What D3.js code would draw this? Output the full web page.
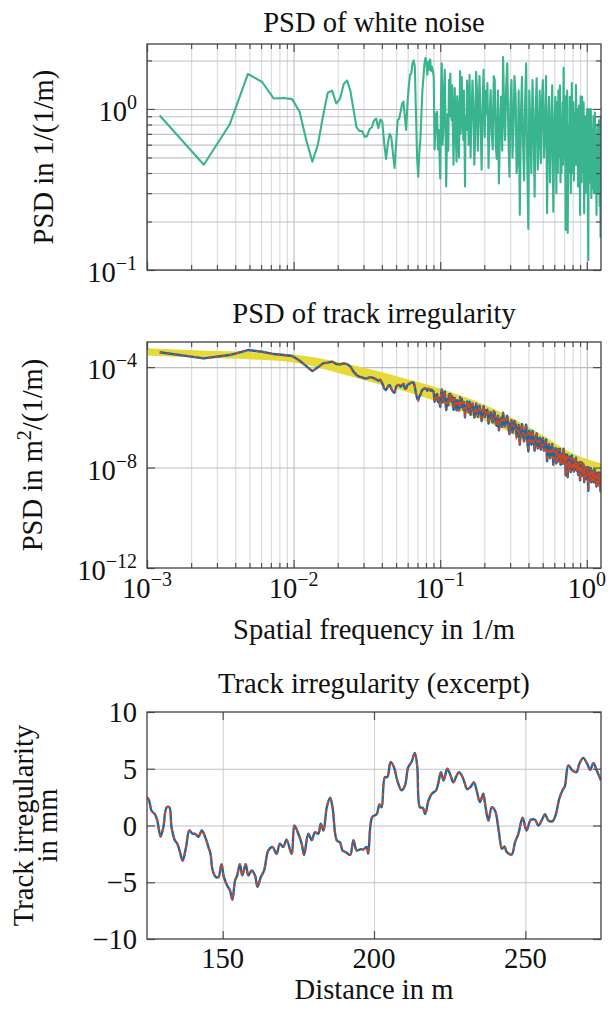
<!DOCTYPE html>
<html>
<head>
<meta charset="utf-8">
<script src="https://cdn.jsdelivr.net/npm/d3@7"></script>
<style>
  body { margin: 0; background: #fff; }
  svg { display: block; font-family: "Liberation Serif", "Times New Roman", serif; }
</style>
</head>
<body>
<svg id="chart" width="611" height="1011"></svg>
<script>
// ---- data ----

// spectral resolution of the FFT (1/819.2 m)
const binWidth = 1 / 819.2;

// PSD of white noise, bins 1..80
const noiseLowPsd = [
  0.91, 0.45, 0.80, 1.65, 1.47, 1.16, 1.17, 1.15, 0.96, 0.64,
  0.47, 0.60, 0.90, 1.26, 1.30, 1.08, 1.16, 1.43, 1.50, 1.29,
  0.99, 0.77, 0.73, 0.73, 0.67, 0.68, 0.75, 0.77, 0.85, 0.87,
  0.76, 0.86, 0.83, 0.61, 0.49, 0.61, 0.70, 0.67, 0.53, 0.43,
  0.61, 0.85, 0.87, 0.96, 1.08, 1.11, 0.90, 0.74, 1.08, 1.38,
  1.63, 1.66, 1.92, 2.00, 1.83, 0.93, 0.50, 0.38, 0.53, 0.64,
  0.93, 1.31, 1.58, 1.92, 2.07, 1.92, 1.63, 1.97, 1.75, 2.03,
  1.72, 1.83, 1.72, 1.58, 0.56, 0.74, 0.93, 0.96, 0.56, 0.74
];

// dense part: readings at selected bins
const noiseHighBins = [
  82, 83, 84, 85, 86, 87, 88, 89, 90, 91,
  92, 93, 94, 95, 96, 97, 98, 99, 100, 101,
  103, 104, 106, 107, 109, 110, 112, 113, 115, 116,
  118, 119, 121, 122, 124, 125, 127, 128, 130, 132,
  134, 136, 138, 140, 142, 144, 146, 148, 150, 152,
  155, 157, 160, 162, 165, 167, 170, 172, 175, 178,
  181, 184, 187, 190, 193, 196, 199, 203, 206, 210,
  213, 217, 220, 224, 227, 231, 235, 239, 243, 247,
  251, 255, 259, 263, 268, 272, 277, 281, 286, 291,
  296, 301, 306, 311, 316, 321, 327, 332, 338, 343,
  349, 355, 361, 367, 373, 379, 385, 391, 398, 404,
  411, 418, 425, 432, 439, 446, 453, 460, 468, 476,
  484, 492, 500, 508, 516, 524, 533, 542, 551, 560,
  569, 578, 588, 597, 607, 617, 627, 637, 648, 658,
  669, 680, 691, 702, 714, 725, 737, 749, 761, 773,
  786, 799, 812, 825, 839, 852, 866, 880, 895, 909,
  924, 939, 954, 969, 985, 1001, 1017, 1024
];
const noiseHighPsd = [
  0.37, 1.2, 1.92, 0.6, 0.74, 1.3, 1.75, 0.8, 0.33, 0.6,
  0.93, 0.55, 1.51, 0.9, 1.66, 1.1, 0.85, 1.4, 0.74, 0.45,
  1.35, 0.8, 0.47, 1.2, 0.90, 0.5, 1.72, 0.7, 1.58, 1.0,
  0.64, 1.3, 0.33, 0.9, 0.74, 1.5, 1.03, 0.6, 1.63, 0.5,
  0.90, 1.5, 1.08, 0.45, 0.67, 1.7, 1.31, 0.55, 0.99, 1.6,
  0.74, 0.42, 1.19, 1.75, 0.67, 1.3, 0.93, 1.45, 0.43, 0.9,
  1.31, 0.7, 0.56, 1.6, 1.51, 0.6, 0.49, 1.3, 0.345, 0.8,
  1.19, 0.55, 2.1, 0.9, 0.64, 1.4, 1.92, 0.7, 0.38, 1.1,
  1.51, 0.5, 0.74, 1.6, 1.19, 0.4, 0.50, 1.3, 0.22, 0.9,
  1.58, 0.6, 0.36, 1.1, 1.92, 0.5, 0.18, 1.3, 0.74, 0.4,
  1.51, 0.8, 0.285, 1.0, 1.55, 0.42, 0.64, 1.3, 0.46, 1.05,
  1.51, 0.5, 0.74, 1.6, 0.225, 0.8, 1.19, 0.35, 0.74, 1.4,
  0.23, 0.75, 1.19, 0.3, 0.58, 1.3, 1.08, 0.35, 0.40, 1.1,
  1.8, 0.5, 0.177, 0.9, 0.17, 0.8, 1.19, 0.3, 1.45, 0.6,
  0.36, 0.95, 1.41, 0.45, 0.33, 1.05, 0.22, 0.7, 1.19, 0.4,
  0.225, 0.9, 0.46, 1.0, 0.115, 0.7, 0.64, 0.28, 0.32, 0.9,
  0.64, 0.3, 0.22, 0.8, 0.50, 0.25, 0.16, 0.53
];

// extra readings in the densest part (above ~0.6 1/m)
const noiseExtraBins = [
  504, 512, 520, 528, 537, 546, 555, 564, 573, 583,
  592, 602, 612, 622, 632, 642, 653, 663, 674, 685,
  696, 708, 719, 731, 743, 755, 767, 779, 792, 805,
  818, 832, 845, 859, 873, 887, 902, 916, 931, 946,
  961, 977, 993, 1009, 1020
];
const noiseExtraPsd = [
  0.6, 1.1, 0.4, 0.5, 1.4, 0.9, 0.7, 0.45, 0.9, 1.2,
  0.55, 1.3, 0.5, 0.4, 0.8, 0.7, 0.4, 1.1, 0.6, 0.45,
  0.8, 1.0, 0.6, 0.55, 1.2, 0.35, 0.7, 1.1, 0.6, 0.3,
  0.75, 0.5, 1.0, 0.35, 1.0, 0.75, 0.55, 0.3, 0.95, 0.6,
  0.5, 0.3, 0.85, 0.6, 0.9
];

// PSD of track irregularity, log10 of m^2/(1/m): bins 1..80, dense bins, extra bins
const trackLowLog = [
  -3.41, -3.65, -3.52, -3.32, -3.39, -3.48, -3.52, -3.56, -3.74, -3.96,
  -4.16, -4.01, -3.85, -3.82, -3.78, -3.88, -3.89, -3.85, -3.88, -3.98,
  -4.18, -4.31, -4.38, -4.41, -4.45, -4.45, -4.41, -4.41, -4.45, -4.49,
  -4.54, -4.51, -4.65, -4.85, -4.91, -4.78, -4.71, -4.85, -4.98, -5.02,
  -4.78, -4.71, -4.71, -4.78, -4.71, -4.67, -4.85, -4.85, -4.71, -4.67,
  -4.65, -4.62, -4.61, -4.62, -4.78, -5.05, -5.24, -5.31, -5.18, -5.11,
  -4.98, -4.91, -4.87, -4.85, -4.85, -4.89, -4.94, -4.87, -4.91, -4.89,
  -4.94, -4.91, -4.95, -4.98, -5.38, -5.24, -5.11, -5.07, -5.38, -5.24
];
const trackHighLog = [
  -5.58, -5.08, -4.89, -5.40, -5.32, -5.09, -4.97, -5.32, -5.71, -5.46,
  -5.28, -5.52, -5.09, -5.33, -5.07, -5.26, -5.38, -5.17, -5.47, -5.70,
  -5.23, -5.47, -5.72, -5.32, -5.47, -5.73, -5.20, -5.60, -5.27, -5.48,
  -5.69, -5.39, -6.00, -5.58, -5.68, -5.37, -5.56, -5.80, -5.38, -5.90,
  -5.67, -5.45, -5.62, -6.01, -5.85, -5.46, -5.59, -5.98, -5.73, -5.54,
  -5.89, -6.15, -5.71, -5.56, -5.99, -5.72, -5.88, -5.70, -6.25, -5.94,
  -5.79, -6.08, -6.20, -5.77, -5.81, -6.23, -6.34, -5.94, -6.52, -6.18,
  -6.02, -6.38, -5.82, -6.21, -6.37, -6.05, -5.94, -6.39, -6.67, -6.23,
  -6.11, -6.61, -6.46, -6.14, -6.28, -6.78, -6.70, -6.30, -7.09, -6.50,
  -6.27, -6.72, -6.96, -6.51, -6.29, -6.89, -7.36, -6.53, -6.80, -7.09,
  -6.54, -6.85, -7.33, -6.80, -6.64, -7.24, -7.08, -6.81, -7.29, -6.95,
  -6.82, -7.33, -7.18, -6.88, -7.75, -7.23, -7.07, -7.63, -7.33, -7.07,
  -7.89, -7.39, -7.22, -7.84, -7.59, -7.26, -7.37, -7.89, -7.86, -7.44,
  -7.25, -7.83, -8.31, -7.63, -8.38, -7.73, -7.56, -8.18, -7.52, -7.92,
  -8.16, -7.76, -7.61, -8.13, -8.29, -7.81, -8.51, -8.02, -7.81, -8.31,
  -8.58, -8.00, -8.30, -7.98, -8.93, -8.16, -8.21, -8.59, -8.54, -8.12,
  -8.27, -8.61, -8.76, -8.21, -8.43, -8.74, -8.95, -8.43
];
const trackExtraLog = [
  -7.53, -7.30, -7.76, -7.68, -7.26, -7.49, -7.62, -7.85, -7.57, -7.47,
  -7.83, -7.49, -7.92, -8.03, -7.75, -7.82, -8.09, -7.67, -7.95, -8.10,
  -7.87, -7.80, -8.04, -8.10, -7.78, -8.34, -8.05, -7.88, -8.16, -8.47,
  -8.09, -8.28, -8.00, -8.47, -8.03, -8.16, -8.32, -8.59, -8.10, -8.31,
  -8.40, -8.64, -8.20, -8.36, -8.20
];

// target band (yellow), log10 bounds
const bandFreq     = [0.001, 0.00255, 0.00503, 0.01, 0.0207, 0.0349, 0.0589, 0.1, 0.1676, 0.283, 0.4775, 0.805, 1.25];
const bandUpperLog = [-3.25, -3.35, -3.40, -3.50, -3.81, -4.12, -4.47, -4.85, -5.31, -5.91, -6.64, -7.44, -7.83];
const bandLowerLog = [-3.54, -3.64, -3.69, -3.82, -4.25, -4.62, -4.98, -5.42, -5.95, -6.53, -7.24, -8.03, -8.44];

// track irregularity excerpt
const distance = [
  125, 125.7, 126.5, 127.6, 128.4, 129.5, 130.4, 131.5, 132.4, 133.1,
  134.2, 135, 135.9, 136.8, 137.9, 139, 140.1, 140.9, 142, 143.1,
  144.2, 145.3, 146, 146.7, 147.8, 148.6, 149.6, 150.4, 151.5, 152.4,
  153.2, 154.1, 154.8, 155.7, 156.5, 157.6, 158.5, 159.6, 160.7, 161.5,
  162.6, 163.7, 165.1, 166.5, 167.8, 168.9, 170, 171.1, 172.8, 173.7,
  175, 176.1, 176.9, 178.3, 179.4, 180.5, 181.6, 182.4, 183.3, 184.4,
  185.5, 186.3, 187.7, 188.8, 189.6, 190.7, 192.1, 193.2, 194.3, 195.4,
  196.5, 197.6, 198.1, 199.4, 200.9, 201.8, 202.5, 203.6, 204.4, 205.5,
  206.6, 207.7, 209.1, 210.2, 211.3, 212.4, 213.5, 214.3, 215.2, 216.1,
  216.9, 218, 219.1, 220.5, 221.3, 222.1, 223, 224.2, 225.3, 226.2,
  227.3, 228.1, 229, 229.7, 230.8, 231.9, 233, 233.9, 235, 236.1,
  236.7, 237.8, 238.9, 240, 241.2, 242.3, 243.1, 243.9, 245.5, 246.6,
  247.7, 249.1, 250.4, 251.8, 253.2, 254.3, 255.4, 256.5, 257.6, 259,
  260.1, 261.2, 262.3, 263.1, 264.2, 265.6, 266.9, 267.8, 269.1, 270.5,
  271.4, 272.5, 273.6, 275
];
const irregularity = [
  2.5, 2.2, 1.3, 1.0, 0.44, -0.97, -0.15, 1.6, 1.6, -0.15,
  -1.3, -1.6, -2.35, -3.1, -1.9, -0.44, -0.73, -0.73, -1.0, -0.44,
  -1.0, -1.9, -2.5, -3.96, -4.55, -4.55, -3.4, -4.55, -5.3, -5.7,
  -6.55, -4.85, -4.4, -3.4, -4.4, -3.4, -4.4, -3.96, -4.4, -5.4,
  -4.55, -3.96, -2.2, -1.9, -2.5, -1.6, -1.9, -1.26, -2.5, 0,
  -0.73, -1.6, -2.6, -0.73, -1.3, -0.6, -0.73, 0.15, -0.44, 1.6,
  2.44, 1.6, -1.3, -1.5, -2.2, -2.35, -2.6, -1.3, -2.2, -2.1,
  -2.1, -1.9, -2.5, 0.73, 1.0, 1.85, 1.6, 4.26, 4.26, 5.6,
  5.14, 3.96, 3.1, 3.5, 5.14, 5.6, 6.4, 5.14, 1.6, 1.56,
  1.0, 2.2, 2.8, 3.1, 3.8, 4.7, 3.96, 5.0, 4.4, 3.8,
  4.4, 4.7, 4.4, 3.96, 3.2, 3.4, 3.8, 3.1, 2.06, 2.8,
  1.9, 0.44, 1.6, 1.3, -0.44, -2.06, -1.85, -2.35, -2.55, -1.47,
  -0.73, 0.68, -0.44, 0.5, 0.5, 0, 0.44, 1.0, 0.44, 0.38,
  1.0, 2.35, 3.1, 3.5, 5.3, 4.85, 4.7, 5.4, 5.96, 5.4,
  4.9, 5.5, 4.85, 3.96
];

const freqTickLabels = [1e-3, 1e-2, 1e-1, 1];
const noiseTickLabels = [0.1, 1];
const trackTickLabels = [1e-12, 1e-8, 1e-4];
const distTicks = [150, 200, 250];
const irrTicks = [-10, -5, 0, 5, 10];

// ---- drawing ----
const svg = d3.select("#chart");
const L = 147, R = 601;
const fontSize = 28.6, supSize = 20;
const frameColor = "#404040", tickColor = "#505050";
const green = "#3ab48f", blue = "#0e6cae", red = "#d9451b", yellow = "#e6da3a";

const byFreq = (a, b) => a[0] - b[0];
const noisePoints = noiseLowPsd.map((v, i) => [(i + 1) * binWidth, v])
  .concat(noiseHighBins.map((k, i) => [k * binWidth, noiseHighPsd[i]]))
  .concat(noiseExtraBins.map((k, i) => [k * binWidth, noiseExtraPsd[i]]))
  .sort(byFreq);
const trackPoints = trackLowLog.map((v, i) => [(i + 1) * binWidth, Math.pow(10, v)])
  .concat(noiseHighBins.map((k, i) => [k * binWidth, Math.pow(10, trackHighLog[i])]))
  .concat(noiseExtraBins.map((k, i) => [k * binWidth, Math.pow(10, trackExtraLog[i])]))
  .sort(byFreq);
const bandPoints = bandFreq.map((f, i) => [f, Math.pow(10, bandUpperLog[i]), Math.pow(10, bandLowerLog[i])]);
const irrPoints = distance.map((d, i) => [d, irregularity[i]]);

const isDecade = v => Math.abs(Math.log10(v) - Math.round(Math.log10(v))) < 1e-6;
const expLabel = v => {
  const e = Math.round(Math.log10(v));
  return e < 0 ? "\u2212" + (-e) : String(e);
};

function powerText(sel, v) {
  sel.text(null);
  sel.append("tspan").text("10");
  sel.append("tspan").attr("dy", -12).attr("font-size", supSize).text(expLabel(v));
}

function clip(id, y0, y1) {
  svg.append("clipPath").attr("id", id)
    .append("rect").attr("x", L).attr("y", y0).attr("width", R - L).attr("height", y1 - y0);
}

function gridX(g, x, values, y0, y1, colorFn) {
  g.append("g").attr("transform", `translate(0,${y1})`)
    .call(d3.axisBottom(x).tickValues(values).tickSize(-(y1 - y0)).tickFormat(""))
    .call(s => s.select(".domain").remove())
    .selectAll("line").attr("stroke", colorFn).attr("stroke-width", 1.2);
}

function gridY(g, y, values, colorFn) {
  g.append("g").attr("transform", `translate(${L},0)`)
    .call(d3.axisLeft(y).tickValues(values).tickSize(-(R - L)).tickFormat(""))
    .call(s => s.select(".domain").remove())
    .selectAll("line").attr("stroke", colorFn).attr("stroke-width", 1.1);
}

function ticks(g, x, y, xMajor, xMinor, yMajor, yMinor, y0, y1) {
  const sets = [
    [d3.axisBottom(x), `translate(0,${y1})`, xMajor, 8], [d3.axisBottom(x), `translate(0,${y1})`, xMinor, 5],
    [d3.axisTop(x), `translate(0,${y0})`, xMajor, 8], [d3.axisTop(x), `translate(0,${y0})`, xMinor, 5],
    [d3.axisLeft(y), `translate(${L},0)`, yMajor, 8], [d3.axisLeft(y), `translate(${L},0)`, yMinor, 5],
    [d3.axisRight(y), `translate(${R},0)`, yMajor, 8], [d3.axisRight(y), `translate(${R},0)`, yMinor, 5]
  ];
  sets.forEach(([ax, tr, vals, len]) => {
    if (!vals.length) return;
    g.append("g").attr("transform", tr)
      .call(ax.tickValues(vals).tickSize(-len).tickFormat(""))
      .call(s => s.select(".domain").remove())
      .selectAll("line").attr("stroke", tickColor).attr("stroke-width", 1.2);
  });
  g.append("rect").attr("x", L).attr("y", y0).attr("width", R - L).attr("height", y1 - y0)
    .attr("fill", "none").attr("stroke", frameColor).attr("stroke-width", 1.3);
}

function title(text, y) {
  svg.append("text").attr("x", (L + R) / 2).attr("y", y).attr("text-anchor", "middle")
    .attr("font-size", fontSize).attr("fill", "#111").text(text);
}

const xFreq = d3.scaleLog().domain([1e-3, 1.25]).range([L, R]);
const freqAll = xFreq.ticks();
const freqMajor = freqAll.filter(isDecade);
const freqMinor = freqAll.filter(v => !isDecade(v));

// ---------- panel 1: white noise ----------
const p1 = { top: 44, bottom: 270 };
const yNoise = d3.scaleLog().domain([0.1, 2.53]).range([p1.bottom, p1.top]);
const noiseAll = yNoise.ticks();
const g1 = svg.append("g");
gridX(g1, xFreq, freqAll, p1.top, p1.bottom, d => isDecade(d) ? "#c4c4c4" : "#dcdcdc");
gridY(g1, yNoise, noiseAll, d => isDecade(d) ? "#b8b8b8" : "#c2c2c2");
clip("clip1", p1.top, p1.bottom);
g1.append("path").datum(noisePoints)
  .attr("clip-path", "url(#clip1)")
  .attr("fill", "none").attr("stroke", green).attr("stroke-width", 2.1).attr("stroke-linejoin", "round")
  .attr("d", d3.line().x(d => xFreq(d[0])).y(d => yNoise(d[1])));
ticks(g1, xFreq, yNoise, freqMajor, freqMinor,
  noiseAll.filter(isDecade), noiseAll.filter(v => !isDecade(v)), p1.top, p1.bottom);
g1.append("g").selectAll("text").data(noiseTickLabels).join("text")
  .attr("x", 137).attr("y", d => yNoise(d) + 12).attr("text-anchor", "end")
  .attr("font-size", fontSize).attr("fill", "#111")
  .each(function (d) { powerText(d3.select(this), d); });
title("PSD of white noise", 31.5);
svg.append("text").attr("transform", `translate(53,${(p1.top + p1.bottom) / 2}) rotate(-90)`)
  .attr("text-anchor", "middle").attr("font-size", fontSize).attr("fill", "#111")
  .text("PSD in 1/(1/m)");

// ---------- panel 2: track irregularity PSD ----------
const p2 = { top: 342, bottom: 568 };
const yTrack = d3.scaleLog().domain([1e-12, 1e-3]).range([p2.bottom, p2.top]);
const g2 = svg.append("g");
gridX(g2, xFreq, freqAll, p2.top, p2.bottom, d => isDecade(d) ? "#c4c4c4" : "#dcdcdc");
gridY(g2, yTrack, [1e-8, 1e-4], () => "#bdbdbd");
clip("clip2", p2.top, p2.bottom);
const data2 = g2.append("g").attr("clip-path", "url(#clip2)");
data2.append("path").datum(bandPoints)
  .attr("fill", yellow).attr("stroke", "none")
  .attr("d", d3.area().curve(d3.curveMonotoneX)
    .x(d => xFreq(d[0])).y0(d => yTrack(d[2])).y1(d => yTrack(d[1])));
const trackLine = d3.line().x(d => xFreq(d[0])).y(d => yTrack(d[1]));
data2.append("path").datum(trackPoints)
  .attr("fill", "none").attr("stroke", blue).attr("stroke-width", 2.4).attr("stroke-linejoin", "round")
  .attr("d", trackLine);
data2.append("path").datum(trackPoints)
  .attr("fill", "none").attr("stroke", red).attr("stroke-width", 2.1).attr("stroke-dasharray", "3,4")
  .attr("d", trackLine);
ticks(g2, xFreq, yTrack, freqMajor, freqMinor, trackTickLabels, [], p2.top, p2.bottom);
g2.append("g").selectAll("text").data(trackTickLabels).join("text")
  .attr("x", 137).attr("y", d => yTrack(d) + 12).attr("text-anchor", "end")
  .attr("font-size", fontSize).attr("fill", "#111")
  .each(function (d) { powerText(d3.select(this), d); });
g2.append("g").selectAll("text").data(freqTickLabels).join("text")
  .attr("x", d => xFreq(d)).attr("y", 598).attr("text-anchor", "middle")
  .attr("font-size", fontSize).attr("fill", "#111")
  .each(function (d) { powerText(d3.select(this), d); });
title("PSD of track irregularity", 322.5);
svg.append("text").attr("x", (L + R) / 2).attr("y", 639).attr("text-anchor", "middle")
  .attr("font-size", fontSize).attr("fill", "#111").text("Spatial frequency in 1/m");
const yl2 = svg.append("text").attr("transform", `translate(42,${(p2.top + p2.bottom) / 2}) rotate(-90)`)
  .attr("text-anchor", "middle").attr("font-size", fontSize).attr("fill", "#111");
yl2.append("tspan").text("PSD in m");
yl2.append("tspan").attr("dy", -11).attr("font-size", supSize).text("2");
yl2.append("tspan").attr("dy", 11).text("/(1/m)");

// ---------- panel 3: irregularity excerpt ----------
const p3 = { top: 712, bottom: 939 };
const xDist = d3.scaleLinear().domain([125, 275]).range([L, R]);
const yIrr = d3.scaleLinear().domain([-10, 10]).range([p3.bottom, p3.top]);
const g3 = svg.append("g");
gridX(g3, xDist, distTicks, p3.top, p3.bottom, () => "#d6d6d6");
gridY(g3, yIrr, irrTicks.slice(1, -1), () => "#c2c2c2");
clip("clip3", p3.top, p3.bottom);
const data3 = g3.append("g").attr("clip-path", "url(#clip3)");
const irrLine = d3.line().curve(d3.curveCatmullRom.alpha(0.5)).x(d => xDist(d[0])).y(d => yIrr(d[1]));
data3.append("path").datum(irrPoints)
  .attr("fill", "none").attr("stroke", blue).attr("stroke-width", 2.4).attr("stroke-linejoin", "round")
  .attr("d", irrLine);
data3.append("path").datum(irrPoints)
  .attr("fill", "none").attr("stroke", red).attr("stroke-width", 2).attr("stroke-dasharray", "4,4")
  .attr("d", irrLine);
ticks(g3, xDist, yIrr, distTicks, [], irrTicks, [], p3.top, p3.bottom);
g3.append("g").selectAll("text").data(irrTicks).join("text")
  .attr("x", 137).attr("y", d => yIrr(d) + 10).attr("text-anchor", "end")
  .attr("font-size", fontSize).attr("fill", "#111")
  .text(d => d < 0 ? "\u2212" + (-d) : String(d));
g3.append("g").selectAll("text").data(distTicks).join("text")
  .attr("x", d => xDist(d)).attr("y", 968).attr("text-anchor", "middle")
  .attr("font-size", fontSize).attr("fill", "#111").text(d => d);
title("Track irregularity (excerpt)", 692.5);
svg.append("text").attr("x", (L + R) / 2).attr("y", 999).attr("text-anchor", "middle")
  .attr("font-size", fontSize).attr("fill", "#111").text("Distance in m");
const yl3 = svg.append("text").attr("transform", `translate(0,${(p3.top + p3.bottom) / 2}) rotate(-90)`)
  .attr("text-anchor", "middle").attr("font-size", fontSize).attr("fill", "#111");
yl3.append("tspan").attr("x", 0).attr("y", 33).text("Track irregularity");
yl3.append("tspan").attr("x", 0).attr("y", 57).text("in mm");
</script>
</body>
</html>
